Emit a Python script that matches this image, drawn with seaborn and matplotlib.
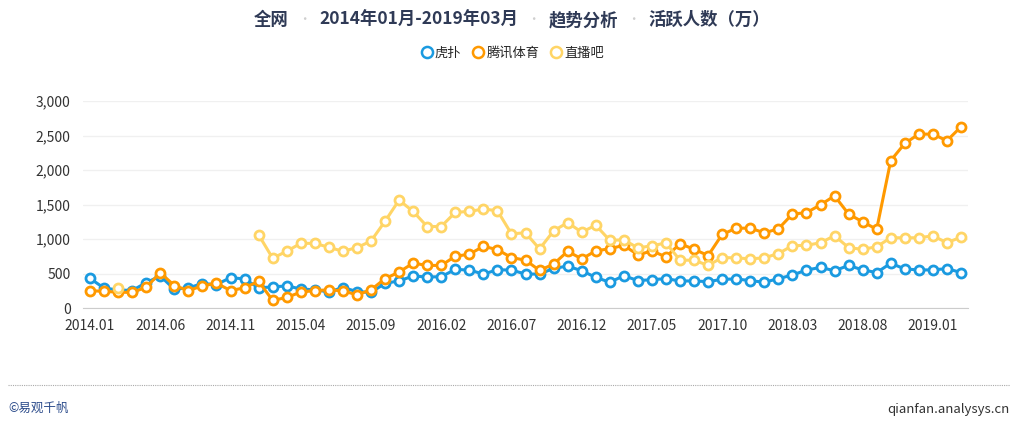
import numpy as np
import pandas as pd
import seaborn as sns
import matplotlib.pyplot as plt
from matplotlib.lines import Line2D

# ---------------------------------data (活跃人数, 万)
months = pd.period_range("2014-01", "2019-03", freq="M").strftime("%Y.%m").tolist()

hupu = [430, 287, 263, 253, 368, 464, 272, 292, 354, 340,
        440, 421, 292, 306, 320, 277, 263, 234, 296, 239,
        225, 358, 392, 464, 449, 454, 559, 550, 492, 554,
        550, 492, 492, 574, 607, 540, 444, 373, 468, 397,
        411, 425, 392, 392, 382, 416, 421, 397, 373, 425,
        478, 550, 588, 540, 617, 552, 514, 648, 566, 552,
        552, 571, 514]

tencent = [253, 240, 230, 225, 301, 511, 325, 253, 320, 360,
           253, 292, 387, 110, 153, 230, 253, 263, 249, 191,
           263, 425, 521, 650, 617, 617, 750, 779, 894, 846,
           731, 693, 545, 636, 822, 712, 827, 860, 908, 770,
           827, 741, 932, 851, 760, 1066, 1157, 1157, 1090, 1147,
           1362, 1381, 1496, 1625, 1362, 1248, 1142, 2136, 2386, 2520,
           2520, 2424, 2626]

zhibo8 = [np.nan, np.nan, 296, np.nan, np.nan, np.nan, np.nan, np.nan, np.nan, np.nan,
          np.nan, np.nan, 1061, 722, 822, 937, 937, 880, 822, 875,
          970, 1257, 1563, 1400, 1181, 1181, 1386, 1400, 1434, 1410,
          1075, 1090, 856, 1118, 1238, 1099, 1200, 980, 989, 870,
          903, 942, 693, 693, 617, 731, 727, 712, 727, 789,
          903, 908, 946, 1047, 875, 850, 888, 1018, 1018, 1018,
          1046, 946, 1027]

names = ["虎扑", "腾讯体育", "直播吧"]
colors = ["#1a9ae0", "#ff9900", "#ffd566"]

df = pd.DataFrame({"idx": np.arange(len(months)), "month": months,
                   "虎扑": hupu, "腾讯体育": tencent, "直播吧": zhibo8})

# ---------------------------------figure
sns.set_style("white")
plt.rcParams["font.family"] = ["Noto Sans CJK SC", "DejaVu Sans"]

fig = plt.figure(figsize=(10.24, 4.28), dpi=100)
ax = fig.add_axes([83 / 1024, 1 - 308 / 428, 885 / 1024, 207 / 428])

for name, c in zip(names, colors):
    s = df[["idx", name]].copy()
    # split into runs so the gaps stay gaps
    run = s[name].isna().cumsum()
    for _, part in s[s[name].notna()].groupby(run[s[name].notna()]):
        sns.lineplot(data=part, x="idx", y=name, ax=ax, color=c, lw=2.2,
                     marker="o", markersize=6.5, markerfacecolor="white",
                     markeredgecolor=c, markeredgewidth=2, zorder=3)

ax.set_xlim(-0.5, len(months) - 0.5)
ax.set_ylim(0, 3000)
ax.set_xlabel("")
ax.set_ylabel("")

ax.set_yticks([0, 500, 1000, 1500, 2000, 2500, 3000])
ax.set_yticklabels(["0", "500", "1,000", "1,500", "2,000", "2,500", "3,000"])
ax.yaxis.grid(True, color="#f0f0f0", lw=1)
ax.tick_params(axis="y", length=0, labelsize=10, labelcolor="#333333", pad=9)

lab_idx = list(range(0, len(months), 5))
ax.set_xticks(lab_idx)
ax.set_xticklabels([months[i] for i in lab_idx])
ax.set_xticks([i - 0.5 for i in lab_idx], minor=True)
ax.tick_params(axis="x", which="major", length=0, labelsize=10, labelcolor="#333333", pad=8)
ax.tick_params(axis="x", which="minor", length=5, color="#cccccc", width=1)

for sp in ["top", "right", "left"]:
    ax.spines[sp].set_visible(False)
ax.spines["bottom"].set_color("#cccccc")

# legend
handles = [Line2D([], [], ls="none", marker="o", markersize=8, markerfacecolor="white",
                  markeredgecolor=c, markeredgewidth=1.8) for c in colors]
fig.legend(handles, names, loc="center", bbox_to_anchor=(0.5, 1 - 53 / 428), ncol=3,
           frameon=False, fontsize=9.5, handletextpad=0.1, columnspacing=0.8,
           handlelength=1.0)

# title built from pieces so the dots can be grey
pieces = ["全网", "•", "2014年01月-2019年03月", "•", "趋势分析", "•", "活跃人数（万）"]
renderer = fig.canvas.get_renderer()
texts = []
for p in pieces:
    dot = p == "•"
    t = fig.text(0, 1 - 20 / 428, p, fontsize=9 if dot else 12.5,
                 fontweight="normal" if dot else "bold",
                 color="#cfcfcf" if dot else "#2f3a56", va="center", ha="left")
    texts.append(t)
gap = 9
widths = [t.get_window_extent(renderer).width for t in texts]
total = sum(widths) + gap * (len(texts) - 1)
x = 512 - total / 2
for t, w in zip(texts, widths):
    t.set_x(x / 1024)
    x += w + gap

# footer
fig.add_artist(Line2D([8 / 1024, 1010 / 1024], [1 - 385 / 428] * 2, color="#aaaaaa",
                      lw=0.8, ls=(0, (1, 1))))
fig.text(8 / 1024, 1 - 408 / 428, "©易观千帆", fontsize=9, color="#2a4a8a", va="center")
fig.text(1010 / 1024, 1 - 410 / 428, "qianfan.analysys.cn", fontsize=9.5, color="#333333",
         va="center", ha="right")

fig.savefig("out.png", dpi=100)
